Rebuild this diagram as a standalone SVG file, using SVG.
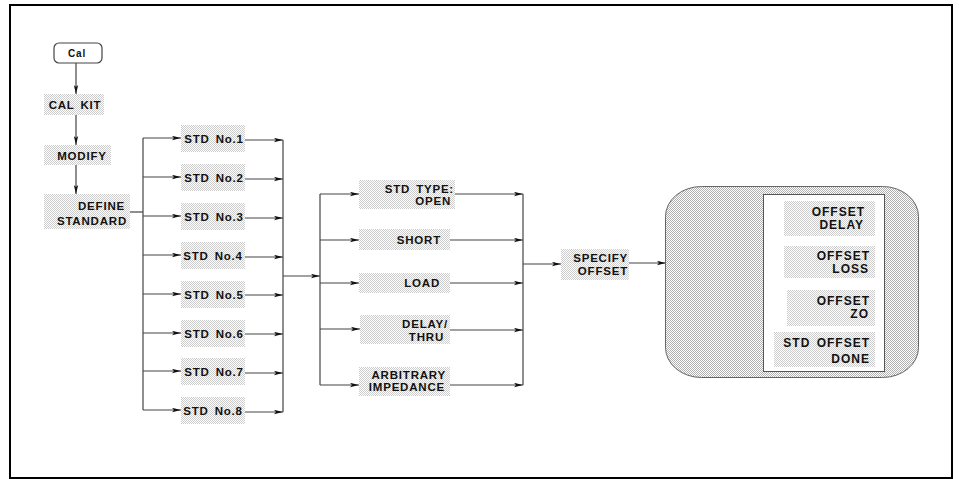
<svg xmlns="http://www.w3.org/2000/svg" width="959" height="479" viewBox="0 0 959 479">
<defs>
<pattern id="dots" width="2" height="2" patternUnits="userSpaceOnUse"><rect width="2" height="2" fill="#fff"/><rect width="1" height="1" fill="#cdcdcd"/><rect x="1" y="1" width="1" height="1" fill="#cdcdcd"/></pattern>
<pattern id="dots2" width="2" height="2" patternUnits="userSpaceOnUse"><rect width="2" height="2" fill="#fff"/><rect width="1" height="1" fill="#b0b0b0"/><rect x="1" y="1" width="1" height="1" fill="#b0b0b0"/></pattern>
<marker id="ah" markerWidth="9" markerHeight="5" refX="9" refY="2.5" orient="auto" markerUnits="userSpaceOnUse"><path d="M0,0.3 L9,2.5 L0,4.7 L2,2.5 z" fill="#111"/></marker>
<style>
.t{font-family:"Liberation Sans",Arial,Helvetica,sans-serif;font-weight:bold;font-size:11.5px;letter-spacing:0.8px;word-spacing:2px;fill:#111}
.r{font-size:12px;letter-spacing:1px}
.e{text-anchor:end}
.m{text-anchor:middle}
.box{fill:url(#dots);stroke:none}
.c{fill:none;stroke:#444;stroke-width:1.2}
.a{fill:none;stroke:#444;stroke-width:1.2;marker-end:url(#ah)}
</style>
</defs>
<rect x="0" y="0" width="959" height="479" fill="#fff"/>
<rect x="10" y="5" width="942" height="473" fill="none" stroke="#000" stroke-width="2"/>

<g id="connectors">
<line class="a" x1="76" y1="63" x2="76" y2="94"/>
<line class="a" x1="76" y1="115" x2="76" y2="145"/>
<line class="a" x1="76" y1="165" x2="76" y2="194"/>
<polyline class="c" points="130,212 143,212"/>
<line class="c" x1="143" y1="138" x2="143" y2="410"/>
<line class="a" x1="143" y1="138" x2="181" y2="138"/>
<line class="a" x1="143" y1="177" x2="181" y2="177"/>
<line class="a" x1="143" y1="216" x2="181" y2="216"/>
<line class="a" x1="143" y1="255" x2="181" y2="255"/>
<line class="a" x1="143" y1="294" x2="181" y2="294"/>
<line class="a" x1="143" y1="333" x2="181" y2="333"/>
<line class="a" x1="143" y1="371" x2="181" y2="371"/>
<line class="a" x1="143" y1="410" x2="181" y2="410"/>
<line class="a" x1="245" y1="140" x2="283" y2="140"/>
<line class="a" x1="245" y1="179" x2="283" y2="179"/>
<line class="a" x1="245" y1="218" x2="283" y2="218"/>
<line class="a" x1="245" y1="257" x2="283" y2="257"/>
<line class="a" x1="245" y1="295" x2="283" y2="295"/>
<line class="a" x1="245" y1="334" x2="283" y2="334"/>
<line class="a" x1="245" y1="373" x2="283" y2="373"/>
<line class="a" x1="245" y1="412" x2="283" y2="412"/>
<line class="c" x1="283" y1="140" x2="283" y2="412"/>
<line class="a" x1="283" y1="276" x2="320" y2="276"/>
<line class="c" x1="320" y1="194" x2="320" y2="385"/>
<line class="a" x1="320" y1="194" x2="359" y2="194"/>
<line class="a" x1="320" y1="240" x2="359" y2="240"/>
<line class="a" x1="320" y1="283" x2="359" y2="283"/>
<line class="a" x1="320" y1="329" x2="360" y2="329"/>
<line class="a" x1="320" y1="385" x2="359" y2="385"/>
<line class="a" x1="455" y1="194" x2="523" y2="194"/>
<line class="a" x1="450" y1="240" x2="523" y2="240"/>
<line class="a" x1="450" y1="283" x2="523" y2="283"/>
<line class="a" x1="450" y1="330" x2="523" y2="330"/>
<line class="a" x1="450" y1="385" x2="523" y2="385"/>
<line class="c" x1="523" y1="194" x2="523" y2="385"/>
<line class="a" x1="523" y1="264" x2="561" y2="264"/>
<line class="a" x1="629" y1="263" x2="666" y2="263"/>
</g>

<g id="cal">
<rect x="54" y="43" width="48" height="20" rx="5" fill="#fff" stroke="#444" stroke-width="1.2"/>
<text class="t m" x="77" y="57" style="font-size:10px">Cal</text>
</g>
<g id="calkit">
<rect class="box" x="44" y="94" width="60" height="21"/>
<text class="t m" x="75" y="109">CAL KIT</text>
</g>
<g id="modify">
<rect class="box" x="44" y="145" width="67" height="20"/>
<text class="t m" x="82" y="160">MODIFY</text>
</g>
<g id="define">
<rect class="box" x="44" y="194" width="86" height="35"/>
<text class="t e" x="125" y="210">DEFINE</text>
<text class="t e" x="127" y="225">STANDARD</text>
</g>

<g id="std1"><rect class="box" x="181" y="125" width="64" height="27"/><text class="t m" x="214" y="143">STD No.1</text></g>
<g id="std2"><rect class="box" x="181" y="164" width="64" height="27"/><text class="t m" x="214" y="182">STD No.2</text></g>
<g id="std3"><rect class="box" x="181" y="203" width="64" height="27"/><text class="t m" x="214" y="221">STD No.3</text></g>
<g id="std4"><rect class="box" x="181" y="242" width="64" height="27"/><text class="t m" x="213" y="260">STD No.4</text></g>
<g id="std5"><rect class="box" x="181" y="281" width="64" height="27"/><text class="t m" x="214" y="299">STD No.5</text></g>
<g id="std6"><rect class="box" x="181" y="320" width="64" height="27"/><text class="t m" x="214" y="338">STD No.6</text></g>
<g id="std7"><rect class="box" x="181" y="358" width="64" height="27"/><text class="t m" x="214" y="376">STD No.7</text></g>
<g id="std8"><rect class="box" x="181" y="397" width="64" height="27"/><text class="t m" x="213" y="415">STD No.8</text></g>

<g id="open"><rect class="box" x="359" y="180" width="96" height="29"/><text class="t e" x="454" y="193">STD TYPE:</text><text class="t e" x="451" y="205">OPEN</text></g>
<g id="short"><rect class="box" x="359" y="229" width="91" height="21"/><text class="t e" x="441" y="244">SHORT</text></g>
<g id="load"><rect class="box" x="359" y="273" width="91" height="20"/><text class="t e" x="440" y="287">LOAD</text></g>
<g id="delay"><rect class="box" x="360" y="315" width="90" height="29"/><text class="t e" x="448" y="328">DELAY/</text><text class="t e" x="444" y="341">THRU</text></g>
<g id="arbitrary"><rect class="box" x="359" y="367" width="91" height="29"/><text class="t e" x="446" y="379">ARBITRARY</text><text class="t e" x="445" y="391">IMPEDANCE</text></g>

<g id="specify"><rect class="box" x="561" y="249" width="68" height="31"/><text class="t e" x="628" y="262">SPECIFY</text><text class="t e" x="628" y="275">OFFSET</text></g>

<g id="offsetmenu">
<rect x="665.5" y="186.5" width="253" height="191" rx="36" ry="30" fill="url(#dots2)" stroke="#666" stroke-width="1"/>
<rect x="763.5" y="194.5" width="121" height="177" fill="#fff" stroke="#555" stroke-width="1"/>
<g id="offdelay"><rect class="box" x="784" y="201" width="91" height="35"/><text class="t r e" x="865" y="216">OFFSET</text><text class="t r e" x="864" y="229">DELAY</text></g>
<g id="offloss"><rect class="box" x="784" y="246" width="91" height="32"/><text class="t r e" x="870" y="260">OFFSET</text><text class="t r e" x="869" y="273">LOSS</text></g>
<g id="offzo"><rect class="box" x="787" y="290" width="88" height="36"/><text class="t r e" x="870" y="305">OFFSET</text><text class="t r e" x="869" y="318">ZO</text></g>
<g id="offdone"><rect class="box" x="774" y="332" width="101" height="35"/><text class="t r e" x="870" y="347">STD OFFSET</text><text class="t r e" x="870" y="363">DONE</text></g>
</g>
</svg>
